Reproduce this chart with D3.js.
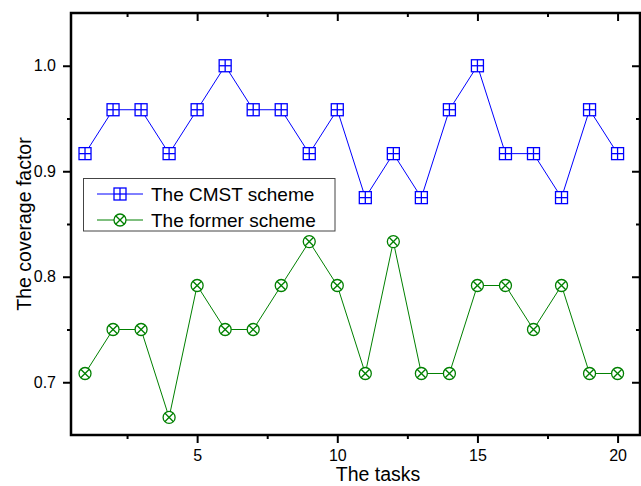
<!DOCTYPE html>
<html>
<head>
<meta charset="utf-8">
<script src="https://cdn.jsdelivr.net/npm/d3@7"></script>
<style>
  body { margin: 0; background: #fff; }
  svg { display: block; font-family: "Liberation Sans", Arial, sans-serif; }
</style>
</head>
<body>
<svg id="chart" width="641" height="486"></svg>
<script>
// data
var tasks = [1,2,3,4,5,6,7,8,9,10,11,12,13,14,15,16,17,18,19,20];
var cmst = [0.9167,0.9583,0.9583,0.9167,0.9583,1.0,0.9583,0.9583,0.9167,0.9583,
            0.875,0.9167,0.875,0.9583,1.0,0.9167,0.9167,0.875,0.9583,0.9167];
var former = [0.7083,0.75,0.75,0.6667,0.7917,0.75,0.75,0.7917,0.8333,0.7917,
              0.7083,0.8333,0.7083,0.7083,0.7917,0.7917,0.75,0.7917,0.7083,0.7083];
var xMajor = [5,10,15,20];
var xMinor = [2.5,7.5,12.5,17.5];
var yMajor = [0.7,0.8,0.9,1.0];
var yMinor = [0.75,0.85,0.95];
var seriesNames = ["The CMST scheme","The former scheme"];

var svg = d3.select("#chart");
var mLeft = 71, mRight = 640, mTop = 13, mBottom = 435;

var x = d3.scaleLinear().domain([0.5, 20.8]).range([mLeft, mRight]);
var y = d3.scaleLinear().domain([0.65, 1.05]).range([mBottom, mTop]);

var blue = "#0000ff", green = "#008000";

function styleAxis(g) {
  g.attr("font-size", 16).attr("font-family", "Liberation Sans, Arial, sans-serif");
  g.select(".domain").remove();
  g.selectAll(".tick line").attr("stroke", "#000").attr("stroke-width", 2);
  g.selectAll(".tick text").attr("fill", "#000");
}

// bottom
svg.append("g").attr("transform", "translate(0," + mBottom + ")")
  .call(d3.axisBottom(x).tickValues(xMajor).tickSize(8).tickSizeOuter(0).tickPadding(7).tickFormat(d3.format("d")))
  .call(styleAxis);
svg.append("g").attr("transform", "translate(0," + mBottom + ")")
  .call(d3.axisBottom(x).tickValues(xMinor).tickSize(4).tickSizeOuter(0).tickFormat(""))
  .call(styleAxis);
// top (inward)
svg.append("g").attr("transform", "translate(0," + mTop + ")")
  .call(d3.axisTop(x).tickValues(xMajor).tickSize(-8).tickSizeOuter(0).tickFormat(""))
  .call(styleAxis);
svg.append("g").attr("transform", "translate(0," + mTop + ")")
  .call(d3.axisTop(x).tickValues(xMinor).tickSize(-4).tickSizeOuter(0).tickFormat(""))
  .call(styleAxis);
// left
svg.append("g").attr("transform", "translate(" + mLeft + ",0)")
  .call(d3.axisLeft(y).tickValues(yMajor).tickSize(8).tickSizeOuter(0).tickPadding(7).tickFormat(d3.format(".1f")))
  .call(styleAxis);
svg.append("g").attr("transform", "translate(" + mLeft + ",0)")
  .call(d3.axisLeft(y).tickValues(yMinor).tickSize(4).tickSizeOuter(0).tickFormat(""))
  .call(styleAxis);
// right (inward)
svg.append("g").attr("transform", "translate(" + mRight + ",0)")
  .call(d3.axisRight(y).tickValues(yMajor).tickSize(-8).tickSizeOuter(0).tickFormat(""))
  .call(styleAxis);
svg.append("g").attr("transform", "translate(" + mRight + ",0)")
  .call(d3.axisRight(y).tickValues(yMinor).tickSize(-4).tickSizeOuter(0).tickFormat(""))
  .call(styleAxis);

// frame
svg.append("rect")
  .attr("x", mLeft).attr("y", mTop)
  .attr("width", mRight - mLeft).attr("height", mBottom - mTop)
  .attr("fill", "none").attr("stroke", "#000").attr("stroke-width", 2.5);

// axis titles
svg.append("text")
  .attr("x", 378).attr("y", 481)
  .attr("text-anchor", "middle")
  .attr("font-size", "19.5px")
  .text("The tasks");
svg.append("text")
  .attr("transform", "translate(31,224) rotate(-90)")
  .attr("text-anchor", "middle")
  .attr("font-size", "19.5px")
  .text("The coverage factor");

var line = d3.line().x(function(d){ return x(d[0]); }).y(function(d){ return y(d[1]); });

function squareMark(g, cx, cy, col) {
  var s = 6;
  g.append("rect").attr("x", cx - s).attr("y", cy - s).attr("width", 2*s).attr("height", 2*s)
    .attr("fill", "#fff").attr("stroke", col).attr("stroke-width", 1.3);
  g.append("line").attr("x1", cx - s).attr("x2", cx + s).attr("y1", cy).attr("y2", cy)
    .attr("stroke", col).attr("stroke-width", 1.3);
  g.append("line").attr("x1", cx).attr("x2", cx).attr("y1", cy - s).attr("y2", cy + s)
    .attr("stroke", col).attr("stroke-width", 1.3);
}
function circleMark(g, cx, cy, col) {
  var r = 6, k = r * 0.72;
  g.append("circle").attr("cx", cx).attr("cy", cy).attr("r", r)
    .attr("fill", "#fff").attr("stroke", col).attr("stroke-width", 1.3);
  g.append("line").attr("x1", cx - k).attr("x2", cx + k).attr("y1", cy - k).attr("y2", cy + k)
    .attr("stroke", col).attr("stroke-width", 1.3);
  g.append("line").attr("x1", cx - k).attr("x2", cx + k).attr("y1", cy + k).attr("y2", cy - k)
    .attr("stroke", col).attr("stroke-width", 1.3);
}

var cmstPts = tasks.map(function(t, i){ return [t, cmst[i]]; });
var formerPts = tasks.map(function(t, i){ return [t, former[i]]; });

svg.append("path").datum(cmstPts).attr("d", line)
  .attr("fill", "none").attr("stroke", blue).attr("stroke-width", 1);
svg.append("path").datum(formerPts).attr("d", line)
  .attr("fill", "none").attr("stroke", green).attr("stroke-width", 1);

var mk = svg.append("g");
cmstPts.forEach(function(p){ squareMark(mk, x(p[0]), y(p[1]), blue); });
formerPts.forEach(function(p){ circleMark(mk, x(p[0]), y(p[1]), green); });

// legend
var lg = svg.append("g");
lg.append("rect").attr("x", 83.5).attr("y", 178.5).attr("width", 251.5).attr("height", 52.5)
  .attr("fill", "#fff").attr("stroke", "#444").attr("stroke-width", 1);
var rows = [
  { name: seriesNames[0], col: blue, mark: squareMark, cy: 194 },
  { name: seriesNames[1], col: green, mark: circleMark, cy: 220 }
];
rows.forEach(function(r){
  lg.append("line").attr("x1", 97).attr("x2", 143).attr("y1", r.cy).attr("y2", r.cy)
    .attr("stroke", r.col).attr("stroke-width", 1);
  r.mark(lg, 120, r.cy, r.col);
  lg.append("text").attr("x", 151).attr("y", r.cy + 7)
    .attr("font-size", "19px").text(r.name);
});
</script>
</body>
</html>
